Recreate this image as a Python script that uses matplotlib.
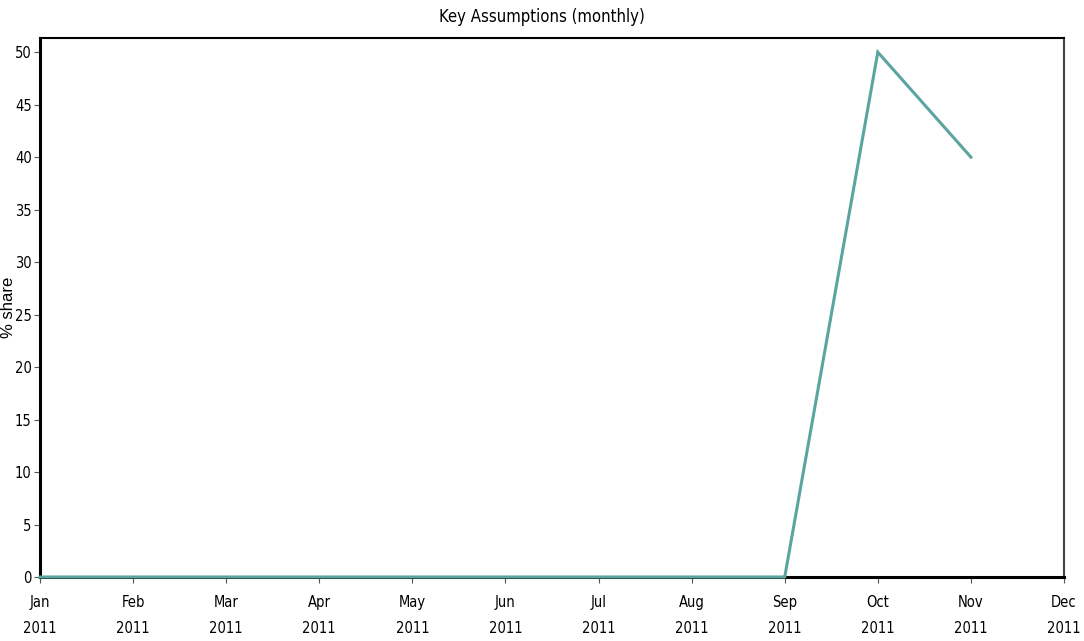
import numpy as np
import matplotlib
matplotlib.use("Agg")
import matplotlib.pyplot as plt

months = ["Jan", "Feb", "Mar", "Apr", "May", "Jun", "Jul", "Aug", "Sep", "Oct", "Nov", "Dec"]
year = "2011"
share = [0, 0, 0, 0, 0, 0, 0, 0, 0, 50, 40]
yticks = [0, 5, 10, 15, 20, 25, 30, 35, 40, 45, 50]

narrow = ["Liberation Sans Narrow", "DejaVu Sans"]
font = dict(family=narrow, stretch="condensed")

fig = plt.figure(figsize=(10.84, 6.41), dpi=100)
ax = fig.add_axes([40 / 1084, 1 - 577 / 641, 1024 / 1084, 539 / 641])

x = np.arange(len(share))
ax.plot(x, share, color="#5ba5a0", linewidth=2.2, solid_joinstyle="miter", zorder=5, clip_on=False)

ax.set_xlim(0, len(months) - 1)
ax.set_ylim(0, 51.35)
ax.set_xticks(np.arange(len(months)))
ax.set_xticklabels([f"{m}\n{year}" for m in months], fontsize=10.5, linespacing=1.95, **font)
ax.set_yticks(yticks)
ax.set_yticklabels([str(v) for v in yticks], fontsize=10.5, **font)
ax.tick_params(axis="y", direction="out", length=4, width=0.8, color="#555555", pad=2)
ax.tick_params(axis="x", direction="out", length=4, width=0.8, color="#555555", pad=9)

for side in ["left", "bottom"]:
    ax.spines[side].set_linewidth(2.2)
    ax.spines[side].set_color("black")
ax.spines["top"].set_linewidth(1.5)
ax.spines["top"].set_color("black")
ax.spines["right"].set_linewidth(1.5)
ax.spines["right"].set_color("#444444")

ax.set_ylabel("% share", fontsize=12, family="Liberation Sans")
ax.yaxis.set_label_coords(-0.0235, 0.5)
fig.text(0.5, 1 - 17 / 641, "Key Assumptions (monthly)", ha="center", va="center", fontsize=12, **font)

fig.savefig("out.png", dpi=100, facecolor="white")
